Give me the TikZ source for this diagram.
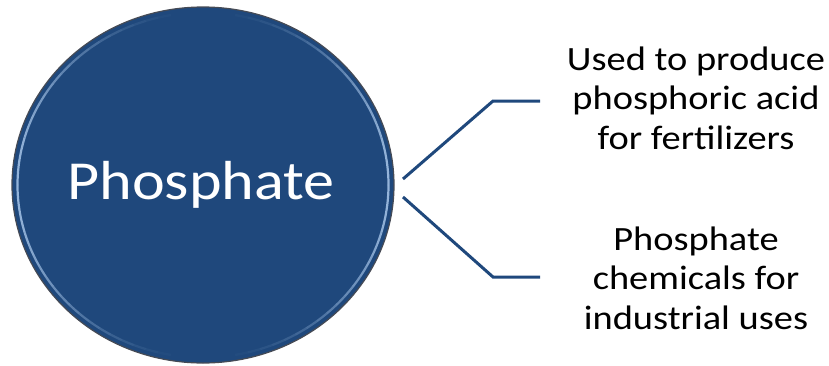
\documentclass[tikz,border=0pt]{standalone}
\usepackage{fontspec}
\setmainfont{Carlito}
\newfontfamily\widefont[FakeStretch=1.13]{Carlito}
\usetikzlibrary{shapes.geometric,calc}
\definecolor{navy}{RGB}{31,72,124}
\definecolor{rim}{RGB}{170,200,235}
\definecolor{edgegray}{RGB}{70,75,85}
\begin{document}
\begin{tikzpicture}[x=1pt,y=-1pt,
  hub/.style={ellipse,fill=navy,draw=edgegray,line width=1.2pt,
    minimum width=382pt,minimum height=356pt,inner sep=0pt},
  hublabel/.style={text=white,inner sep=0pt,
    font=\widefont\fontsize{55}{60}\selectfont},
  usebox/.style={align=center,text=black,inner sep=0pt,
    font=\widefont\fontsize{34}{39.5}\selectfont},
  branch/.style={draw=navy,line width=3pt,line join=miter}]
\useasboundingbox (0,0) rectangle (829,365);
% central circle
\node[hub] (phos) at (203,185) {};
% soft bevel along the rim, fading towards top and bottom
\foreach \a in {-80,-76,...,76} {
  \pgfmathsetmacro\op{0.85*cos(\a+2)^2}
  \draw[rim,line width=2.2pt,opacity=\op]
    ($(phos.center)+({185.5*cos(\a)},{172.5*sin(\a)})$)
    arc[start angle=\a,end angle=\a+4,x radius=185.5,y radius=172.5];
  \draw[rim,line width=2.2pt,opacity=\op]
    ($(phos.center)+({185.5*cos(180+\a)},{172.5*sin(180+\a)})$)
    arc[start angle=180+\a,end angle=184+\a,x radius=185.5,y radius=172.5];
}
\node[hublabel] (phoslabel) at (201,185) {Phosphate};
% uses
\node[usebox] (use1) at (696,98) {Used to produce\\phosphoric acid\\for fertilizers};
\node[usebox] (use2) at (696,278) {Phosphate\\chemicals for\\industrial uses};
% branch connectors
\coordinate (j1) at (403,179);
\coordinate (e1) at (493,101);
\coordinate (t1) at (540,101);
\coordinate (j2) at (403,197);
\coordinate (e2) at (493,277);
\coordinate (t2) at (540,277);
\draw[branch] (j1) -- (e1) -- (t1);
\draw[branch] (j2) -- (e2) -- (t2);
\end{tikzpicture}
\end{document}
